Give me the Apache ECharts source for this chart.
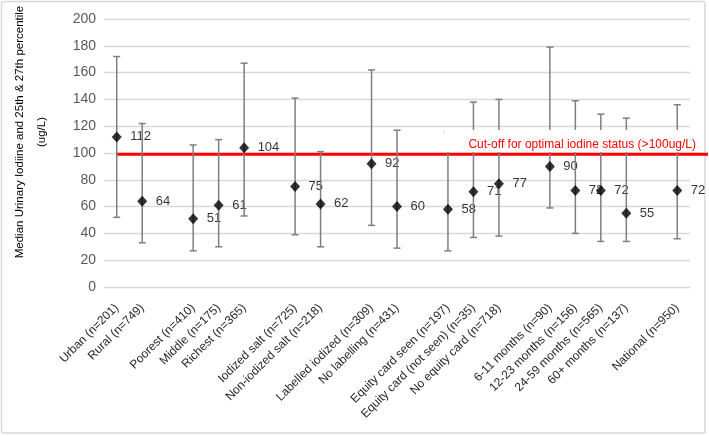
<!DOCTYPE html>
<html>
<head>
<meta charset="utf-8">
<script src="https://cdn.jsdelivr.net/npm/echarts@6/dist/echarts.min.js"></script>
<style>html,body{margin:0;padding:0;background:#fff;}#c{width:709px;height:436px;}</style>
</head>
<body>
<div id="c"></div>
<script>
const categories = ['Urban (n=201)','Rural (n=749)','','Poorest (n=410)','Middle (n=175)','Richest (n=365)','',
  'Iodized salt (n=725)','Non-iodized salt (n=218)','','Labelled iodized (n=309)','No labelling (n=431)','',
  'Equity card seen (n=197)','Equity card (not seen) (n=35)','No equity card (n=718)','',
  '6-11 months (n=90)','12-23 months (n=156)','24-59 months (n=565)','60+ months (n=137)','','National (n=950)'];
const medians = [112,64,null,51,61,104,null,75,62,null,92,60,null,58,71,77,null,90,72,72,55,null,72];
const p25 =     [52,33,null,27,30,53,null,39,30,null,46,29,null,27,37,38,null,59,40,34,34,null,36];
const p75 =     [172,122,null,106,110,167,null,141,101,null,162,117,null,116,138,140,null,179,139,129,126,null,136];
const yTicks = [0,20,40,60,80,100,120,140,160,180,200];
const cutoffValue = 99;
const cutoffX = [0, 23.2];
const cutoffText = 'Cut-off for optimal iodine status (>100ug/L)';
const yName = 'Median Urinary Iodiine and 25th & 27th percentile\n(ug/L)';

const pts = [], bars = [];
medians.forEach((m, i) => { if (m !== null) { pts.push([i, m]); bars.push([i, p25[i], p75[i]]); } });

const chart = echarts.init(document.getElementById('c'), null, {renderer: 'canvas'});
const FONT = "'Liberation Sans', Arial, sans-serif";
chart.setOption({
  animation: false,
  backgroundColor: '#fff',
  grid: [
    {left: 104, right: 19, top: 19, bottom: 149, containLabel: false, outerBoundsMode: 'none'},
    {left: 104, right: 1, top: 19, bottom: 149, containLabel: false, outerBoundsMode: 'none'}
  ],
  xAxis: [
    {type: 'category', data: categories, gridIndex: 0, boundaryGap: true,
     axisLine: {show: false}, axisTick: {show: false},
     axisLabel: {interval: 0, rotate: 45, margin: 19, fontSize: 12, color: '#262626', fontFamily: FONT}},
    {type: 'value', gridIndex: 1, min: -0.5, max: cutoffX[1], show: false}
  ],
  yAxis: [
    {type: 'value', gridIndex: 0, min: yTicks[0], max: yTicks[yTicks.length-1], interval: 20,
     axisLine: {show: false}, axisTick: {show: false},
     splitLine: {lineStyle: {color: '#d9d9d9', width: 1.3}},
     axisLabel: {fontSize: 14, color: '#595959', margin: 8, fontFamily: FONT},
     name: yName, nameLocation: 'middle', nameGap: 51, nameRotate: 90,
     nameTextStyle: {fontSize: 11.5, color: '#000', lineHeight: 22, fontFamily: FONT, padding: [0,0,0,42]}},
    {type: 'value', gridIndex: 1, min: 0, max: 200, show: false}
  ],
  series: [
    {type: 'line', xAxisIndex: 1, yAxisIndex: 1, z: 1, symbol: 'none', silent: true,
     data: cutoffX.map(x => [x, cutoffValue]), lineStyle: {color: '#ff0000', width: 3}},
    {type: 'scatter', z: 1.5, symbolSize: 1, itemStyle: {color: 'rgba(0,0,0,0)'}, data: pts,
     label: {show: true, position: 'right', distance: 13, fontSize: 13, color: '#000', fontFamily: FONT,
             formatter: p => p.value[1]}},
    {type: 'custom', z: 2, data: bars,
     renderItem: function (params, api) {
       const x = api.value(0);
       const lo = api.coord([x, api.value(1)]);
       const hi = api.coord([x, api.value(2)]);
       const w = 3.5;
       const st = {stroke: '#7f7f7f', lineWidth: 1.5};
       return {type: 'group', children: [
         {type: 'line', shape: {x1: lo[0], y1: lo[1], x2: hi[0], y2: hi[1]}, style: st},
         {type: 'line', shape: {x1: lo[0]-w, y1: lo[1], x2: lo[0]+w, y2: lo[1]}, style: st},
         {type: 'line', shape: {x1: hi[0]-w, y1: hi[1], x2: hi[0]+w, y2: hi[1]}, style: st}
       ]};
     }},
    {type: 'scatter', z: 3, symbol: 'diamond', symbolSize: [10, 11], itemStyle: {color: '#000'}, data: pts}
  ],
  graphic: [
    {type: 'rect', z: -10, silent: true, shape: {x: 1.5, y: 1.5, width: 703.5, height: 431.5, r: 2},
     style: {fill: 'none', stroke: '#d9d9d9', lineWidth: 1.5}},
    {type: 'rect', z: 100, silent: true, shape: {x: 445, y: 130, width: 258, height: 22},
     style: {fill: '#fff'}},
    {type: 'text', z: 101, silent: true, x: 696, y: 145,
     style: {text: cutoffText, fill: '#ff0000', font: "12px 'Liberation Sans', Arial, sans-serif",
             textAlign: 'right', textVerticalAlign: 'middle'}}
  ]
});
</script>
</body>
</html>
